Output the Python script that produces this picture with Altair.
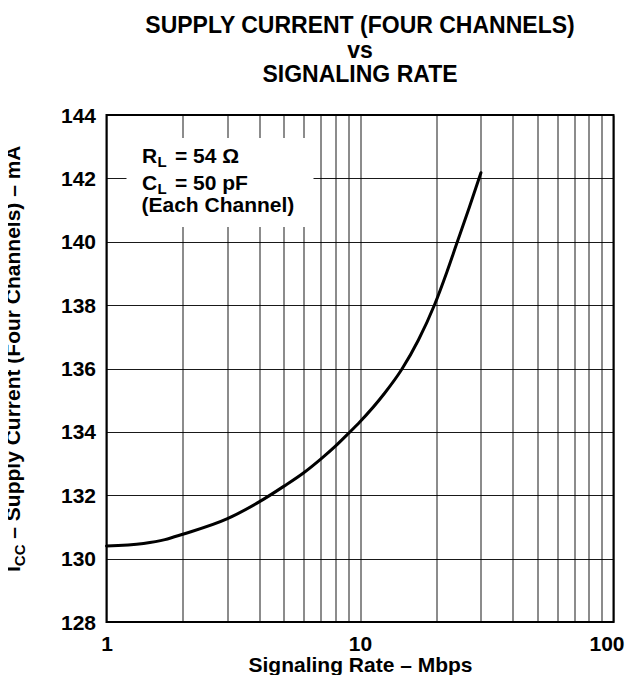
import altair as alt
import pandas as pd

# ---- data ----
rate = [1, 1.4, 1.7, 2, 3, 4, 5, 6, 7, 8, 9, 10, 12.5, 14.6, 17, 19.7, 22, 24, 27, 30]
icc = [130.4, 130.48, 130.6, 130.77, 131.26, 131.79, 132.28, 132.71, 133.14, 133.55,
       133.95, 134.32, 135.22, 135.97, 136.9, 138.02, 139.04, 139.91, 141.09, 142.18]

x_grid = [1, 2, 3, 4, 5, 6, 7, 8, 9, 10, 20, 30, 40, 50, 60, 70, 80, 90, 100]
x_labels = [1, 10, 100]
y_ticks = [128, 130, 132, 134, 136, 138, 140, 142, 144]
title_lines = ["SUPPLY CURRENT (FOUR CHANNELS)", "vs", "SIGNALING RATE"]
x_title = "Signaling Rate \u2013 Mbps"
y_title_main = "I"
y_title_sub = "CC"
y_title_rest = "\u2013 Supply Current (Four Channels) \u2013 mA"
note_r = ["R", "L", "= 54 \u03a9"]
note_c = ["C", "L", "= 50 pF"]
note_3 = "(Each Channel)"

FONT = "Liberation Sans"
W = 507
H = 507

df = pd.DataFrame({"rate": rate, "icc": icc})
dummy = pd.DataFrame({"a": [0]})

label_test = " || ".join(f"datum.value == {v}" for v in x_labels)

x_enc = alt.X(
    "rate:Q",
    scale=alt.Scale(type="log", domain=[1, 100], nice=False),
    axis=alt.Axis(
        values=x_grid,
        labelExpr=f"({label_test}) ? format(datum.value, 'd') : ''",
        labelOverlap=False,
        labelFlush=False,
        labelBaseline="alphabetic",
        labelPadding=28,
        labelOffset={"expr": "datum.value == 100 ? -7 : 0"},
        ticks=False,
        tickSize=0,
        domain=False,
        title=x_title,
        titleY=49,
        titleBaseline="alphabetic",
    ),
)
y_enc = alt.Y(
    "icc:Q",
    scale=alt.Scale(domain=[128, 144], nice=False, zero=False),
    axis=alt.Axis(
        values=y_ticks,
        labelOverlap=False,
        labelFlush=False,
        labelBaseline="alphabetic",
        labelOffset=7,
        labelPadding=11,
        ticks=False,
        tickSize=0,
        domain=False,
        title=None,
    ),
)

line = alt.Chart(df).mark_line(
    color="black", strokeWidth=3, interpolate="monotone", strokeCap="round"
).encode(x=x_enc, y=y_enc)

box = alt.Chart(dummy).mark_rect(color="white", opacity=1).encode(
    x=alt.value(20), x2=alt.value(207), y=alt.value(23), y2=alt.value(112)
)


def txt(s, x, y, size=21, angle=0):
    return alt.Chart(dummy).mark_text(
        text=s, font=FONT, fontWeight="bold", fontSize=size, color="black",
        align="left", baseline="alphabetic", angle=angle,
    ).encode(x=alt.value(x), y=alt.value(y))


texts = [
    txt(note_r[0], 35.5, 47.5),
    txt(note_r[1], 51, 52.3, size=15),
    txt(note_r[2], 68.5, 47.5),
    txt(note_c[0], 35.5, 74.5),
    txt(note_c[1], 51, 79.3, size=15),
    txt(note_c[2], 68.5, 74.5),
    txt(note_3, 35, 96.7),
    txt(y_title_main, -86.5, 457, angle=270),
    txt(y_title_sub, -81.9, 451.2, size=15, angle=270),
    txt(y_title_rest, -86.5, 423.7, angle=270),
]

chart = alt.layer(line, box, *texts).properties(
    width=W,
    height=H,
    autosize="none",
    background="white",
    padding={"left": 98.5, "top": 107, "right": 11.5, "bottom": 53},
    title=alt.TitleParams(
        text=title_lines, font=FONT, fontSize=23, fontWeight="bold",
        color="black", anchor="middle", offset=18, lineHeight=24.5,
    ),
).configure_view(
    stroke="black", strokeWidth=2, fill="white"
).configure_axis(
    grid=True, gridColor="black", gridWidth=1, gridOpacity=0.9,
    labelFont=FONT, labelFontSize=21, labelFontWeight="bold", labelColor="black",
    titleFont=FONT, titleFontSize=21, titleFontWeight="bold", titleColor="black",
)

chart.save("out.html", embed_options={"renderer": "svg", "actions": False})
